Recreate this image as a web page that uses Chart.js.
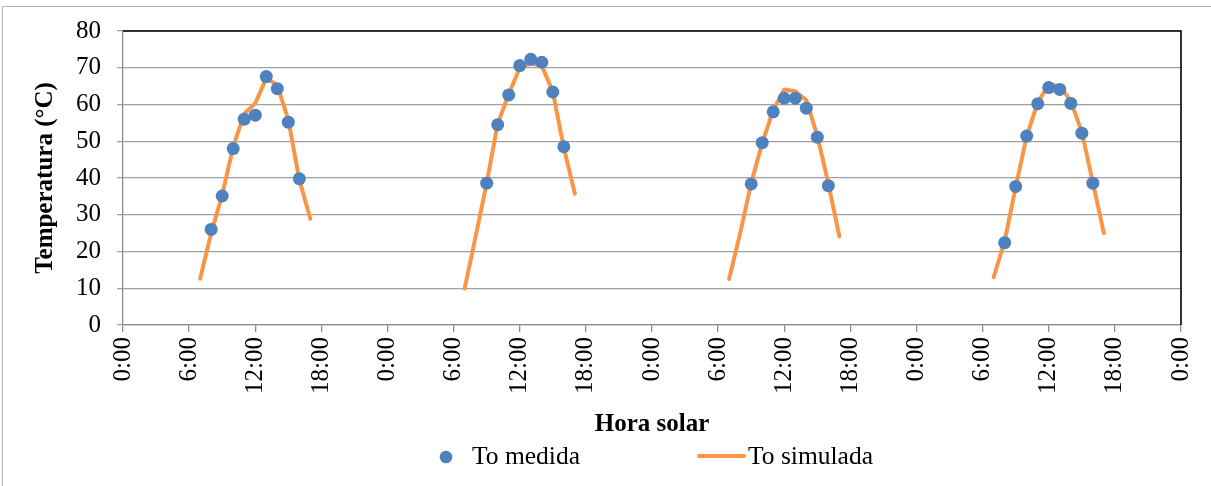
<!DOCTYPE html>
<html><head><meta charset="utf-8">
<script src="https://cdn.jsdelivr.net/npm/chart.js@4.4.0/dist/chart.umd.min.js"></script>
<style>html,body{margin:0;padding:0;background:#fff;overflow:hidden}canvas{display:block}</style>
</head><body>
<canvas id="c" width="1211" height="486"></canvas>
<script>
// ---- data ----
const seriesNames = ['To medida', 'To simulada'];
const xAxisTitle = 'Hora solar';
const yAxisTitle = 'Temperatura (°C)';
const dayOffsets = [0, 24, 48, 72];           // hours from start of each day
const xTickHours = [0, 6, 12, 18, 24, 30, 36, 42, 48, 54, 60, 66, 72, 78, 84, 90, 96];
const yTickValues = [0, 10, 20, 30, 40, 50, 60, 70, 80];

const measuredHoursDay1 = [8, 9, 10, 11, 12, 13, 14, 15, 16];
const measuredDay1 = [26.0, 35.1, 48.0, 56.0, 57.1, 67.6, 64.3, 55.2, 39.8];
const measuredHoursDay2 = [9, 10, 11, 12, 13, 14, 15, 16];
const measuredDay2 = [38.6, 54.5, 62.6, 70.6, 72.3, 71.5, 63.4, 48.5];
const measuredHoursDay3 = [9, 10, 11, 12, 13, 14, 15, 16];
const measuredDay3 = [38.4, 49.6, 58.0, 61.7, 61.7, 59.0, 51.1, 37.9];
const measuredHoursDay4 = [8, 9, 10, 11, 12, 13, 14, 15, 16];
const measuredDay4 = [22.4, 37.7, 51.4, 60.2, 64.6, 64.1, 60.3, 52.2, 38.6];

const simulatedHours = [7, 8, 9, 10, 11, 12, 13, 14, 15, 16, 17];
const simulatedDay1 = [12.6, 25.0, 35.4, 48.5, 57.5, 60.3, 67.1, 65.3, 55.8, 39.5, 28.9];
const simulatedDay2 = [9.9, 24.1, 38.6, 54.8, 62.8, 70.0, 71.2, 70.5, 63.5, 48.2, 35.7];
const simulatedDay3 = [12.5, 25.0, 38.6, 49.5, 58.5, 64.1, 63.6, 61.2, 51.5, 38.5, 24.1];
const simulatedDay4 = [13.0, 22.8, 37.5, 51.4, 60.5, 65.5, 65.0, 61.0, 52.5, 38.8, 25.0];

// ---- build datasets ----
const measuredHours = [measuredHoursDay1, measuredHoursDay2, measuredHoursDay3, measuredHoursDay4];
const measuredVals = [measuredDay1, measuredDay2, measuredDay3, measuredDay4];
const simulatedVals = [simulatedDay1, simulatedDay2, simulatedDay3, simulatedDay4];

const measuredPts = [];
measuredVals.forEach((vals, d) => vals.forEach((v, i) => measuredPts.push({x: measuredHours[d][i] + dayOffsets[d], y: v})));
const simulatedPts = [];
simulatedVals.forEach((vals, d) => {
  vals.forEach((v, i) => simulatedPts.push({x: simulatedHours[i] + dayOffsets[d], y: v}));
  simulatedPts.push({x: dayOffsets[d] + 20, y: null});
});

const BLUE = '#4F81BD', ORANGE = '#F79646', GRID = '#a0a0a0', AXIS = '#8c8c8c';
const FONT = '"Liberation Serif", "Times New Roman", serif';
const FS = 25;

const decor = {
  id: 'decor',
  beforeDraw(chart) {
    const ctx = chart.ctx;
    ctx.save();
    ctx.strokeStyle = '#b0b0b0'; ctx.lineWidth = 1;
    ctx.beginPath(); ctx.moveTo(2.5, chart.height); ctx.lineTo(2.5, 6.5); ctx.lineTo(chart.width, 6.5); ctx.stroke();
    ctx.restore();
  },
  afterDraw(chart) {
    const ctx = chart.ctx, a = chart.chartArea;
    ctx.save();
    ctx.strokeStyle = '#000'; ctx.lineWidth = 1.6;
    ctx.beginPath(); ctx.moveTo(a.left, a.top); ctx.lineTo(a.right, a.top); ctx.lineTo(a.right, a.bottom); ctx.stroke();
    // legend
    const cx = (a.left + a.right) / 2, ly = 457;
    ctx.fillStyle = BLUE;
    ctx.beginPath(); ctx.arc(cx - 206, ly, 6.3, 0, Math.PI * 2); ctx.fill();
    ctx.strokeStyle = ORANGE; ctx.lineWidth = 4; ctx.lineCap = 'round';
    ctx.beginPath(); ctx.moveTo(cx + 47, ly - 1); ctx.lineTo(cx + 92, ly - 1); ctx.stroke();
    ctx.fillStyle = '#000'; ctx.font = '25.5px ' + FONT; ctx.textBaseline = 'middle'; ctx.textAlign = 'left';
    ctx.fillText(seriesNames[0], cx - 180, ly);
    ctx.fillText(seriesNames[1], cx + 96, ly);
    ctx.restore();
  }
};

new Chart(document.getElementById('c'), {
  type: 'line',
  data: {
    datasets: [
      {label: seriesNames[0], data: measuredPts, showLine: false, pointRadius: 6.5, pointHoverRadius: 6.5,
       pointBackgroundColor: BLUE, pointBorderColor: BLUE, pointBorderWidth: 0, borderColor: BLUE, backgroundColor: BLUE},
      {label: seriesNames[1], data: simulatedPts, spanGaps: false, pointRadius: 0, borderColor: ORANGE,
       backgroundColor: ORANGE, borderWidth: 4, borderCapStyle: 'round', borderJoinStyle: 'round', tension: 0}
    ]
  },
  options: {
    responsive: false, animation: false, devicePixelRatio: 1,
    layout: {padding: {left: 0, top: 31, right: 30, bottom: 46.6}},
    plugins: {legend: {display: false}, tooltip: {enabled: false}},
    scales: {
      x: {
        type: 'linear', min: 0, max: 96,
        afterBuildTicks: s => { s.ticks = xTickHours.map(v => ({value: v})); },
        afterFit: s => { s.height = 114.4; s.paddingLeft = 0; s.paddingRight = 0; },
        grid: {drawOnChartArea: false, drawTicks: true, tickLength: 7, color: AXIS, lineWidth: 1.3},
        border: {color: AXIS, width: 1.3},
        ticks: {minRotation: 90, maxRotation: 90, autoSkip: false, padding: 5, color: '#000',
                font: {family: FONT, size: FS}, callback: v => (v % 24) + ':00'},
        title: {display: true, text: xAxisTitle, color: '#000', padding: {top: 0, bottom: 0},
                font: {family: FONT, size: FS, weight: 'bold'}}
      },
      y: {
        min: 0, max: 80,
        afterBuildTicks: s => { s.ticks = yTickValues.map(v => ({value: v})); },
        afterFit: s => { s.width = 123; s.paddingTop = 0; s.paddingBottom = 0; },
        grid: {color: GRID, lineWidth: 1.3, tickLength: 6, drawTicks: true},
        border: {color: AXIS, width: 1.3},
        ticks: {padding: 16, color: '#000', font: {family: FONT, size: FS}},
        title: {display: true, text: yAxisTitle, color: '#000', padding: {top: 31, bottom: 0},
                font: {family: FONT, size: FS, weight: 'bold'}}
      }
    }
  },
  plugins: [decor]
});
</script>
</body></html>
